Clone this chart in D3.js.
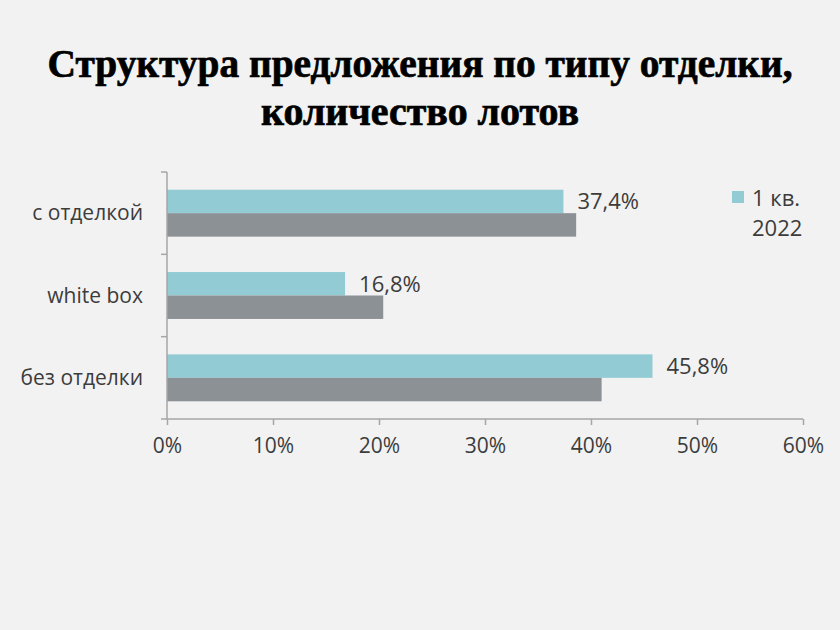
<!DOCTYPE html>
<html>
<head>
<meta charset="utf-8">
<script src="https://cdn.jsdelivr.net/npm/d3@7"></script>
<style>
  body { margin: 0; background: #f2f2f2; }
  svg { display: block; }
</style>
</head>
<body>
<svg id="chart" width="840" height="630"></svg>
<script>
// data
const categories = ["с отделкой", "white box", "без отделки"];
const seriesNames = ["1 кв. 2022", "1 кв. 2021"];
const values2022 = [37.4, 16.8, 45.8];
const values2021 = [38.6, 20.4, 41.0];
const xTicks = [0, 10, 20, 30, 40, 50, 60];
const titleLines = ["Структура предложения по типу отделки,", "количество лотов"];

const colors = ["#92cbd4", "#8c9196"];

const svg = d3.select("#chart");

svg.append("rect")
    .attr("width", 840)
    .attr("height", 630)
    .attr("fill", "#f2f2f2");

// title
const titleY = [77, 125], titleW = [745, 318];
svg.selectAll(".title")
    .data(titleLines)
    .enter()
    .append("text")
    .attr("class", "title")
    .attr("x", 420)
    .attr("y", (d, i) => titleY[i])
    .attr("text-anchor", "middle")
    .attr("textLength", (d, i) => titleW[i])
    .attr("lengthAdjust", "spacingAndGlyphs")
    .style("font-family", "'Liberation Serif', 'DejaVu Serif', serif")
    .style("font-weight", "bold")
    .style("font-size", "39px")
    .style("fill", "#000")
    .style("stroke", "#000")
    .style("stroke-width", 0.7)
    .text(d => d);

const plotL = 167, plotR = 803, plotT = 172, plotB = 419;

const x = d3.scaleLinear().domain([0, 60]).range([plotL, plotR]);
const y = d3.scaleBand().domain(categories).range([plotT, plotB]).paddingInner(0.43).paddingOuter(0.215);
const sub = d3.scaleBand().domain(seriesNames).range([0, y.bandwidth()]);

const font = "'Open Sans', 'Liberation Sans', sans-serif";
const fontSize = "21px";
const textCol = "#3c3c3c";
const axisCol = "#a6a6a6";

// bars
const series = [values2022, values2021];
series.forEach((vals, s) => {
    svg.append("g")
        .selectAll("rect")
        .data(vals)
        .enter()
        .append("rect")
        .attr("x", x(0))
        .attr("y", (d, i) => y(categories[i]) + sub(seriesNames[s]))
        .attr("width", d => x(d) - x(0))
        .attr("height", sub.bandwidth())
        .attr("fill", colors[s]);
});

// value labels for 2022
svg.append("g")
    .selectAll("text")
    .data(values2022)
    .enter()
    .append("text")
    .attr("x", d => x(d) + 14)
    .attr("y", (d, i) => y(categories[i]) + sub(seriesNames[0]) + sub.bandwidth() / 2 + 8)
    .style("font-family", font)
    .style("font-size", "22px")
    .style("fill", textCol)
    .text(d => d.toFixed(1).replace(".", ",") + "%");

// x axis
const xAxis = svg.append("g")
    .attr("transform", "translate(0," + plotB + ")")
    .call(d3.axisBottom(x).tickValues(xTicks).tickSize(6).tickPadding(13).tickFormat(d => d + "%"));
xAxis.select(".domain").attr("stroke", axisCol).attr("stroke-width", 1.5).attr("d", "M" + plotL + ",0H" + plotR);
xAxis.selectAll(".tick line").attr("stroke", axisCol).attr("stroke-width", 1.5);
xAxis.selectAll(".tick text")
    .style("font-family", font)
    .style("font-size", fontSize)
    .style("fill", textCol);

// y axis
const yEdges = [plotT, plotT + (plotB - plotT) / 3, plotT + 2 * (plotB - plotT) / 3, plotB];
svg.append("line")
    .attr("x1", plotL).attr("x2", plotL)
    .attr("y1", plotT).attr("y2", plotB)
    .attr("stroke", axisCol).attr("stroke-width", 1.5);
svg.append("g")
    .selectAll("line")
    .data(yEdges)
    .enter()
    .append("line")
    .attr("x1", plotL - 6).attr("x2", plotL)
    .attr("y1", d => d).attr("y2", d => d)
    .attr("stroke", axisCol).attr("stroke-width", 1.5);

svg.append("g")
    .selectAll("text")
    .data(categories)
    .enter()
    .append("text")
    .attr("x", 143)
    .attr("y", d => y(d) + y.bandwidth() / 2 + 7)
    .attr("text-anchor", "end")
    .style("font-family", font)
    .style("font-size", fontSize)
    .style("fill", textCol)
    .text(d => d);

// legend (only the 2022 entry is shown)
const legend = svg.append("g").attr("transform", "translate(732,191)");
legend.append("rect").attr("width", 12).attr("height", 12).attr("fill", colors[0]);
legend.selectAll("text")
    .data(["1 кв.", "2022"])
    .enter()
    .append("text")
    .attr("x", 20)
    .attr("y", (d, i) => 15 + i * 30)
    .style("font-family", font)
    .style("font-size", "22px")
    .style("fill", textCol)
    .text(d => d);
</script>
</body>
</html>
